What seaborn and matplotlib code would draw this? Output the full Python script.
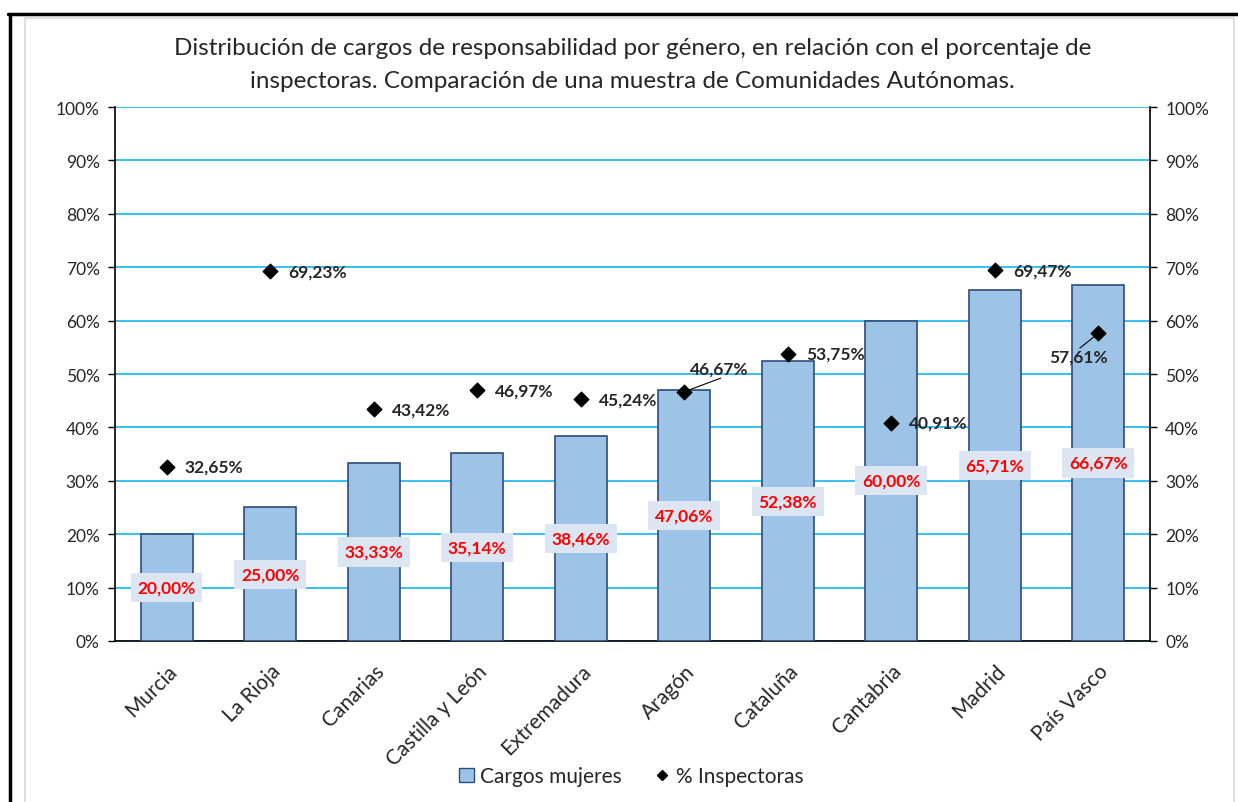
import pandas as pd
import matplotlib.pyplot as plt
import matplotlib.patches as mpatches
from matplotlib.lines import Line2D
import seaborn as sns

# data
comunidades = ["Murcia", "La Rioja", "Canarias", "Castilla y León", "Extremadura",
               "Aragón", "Cataluña", "Cantabria", "Madrid", "País Vasco"]
cargos_mujeres = [20.00, 25.00, 33.33, 35.14, 38.46, 47.06, 52.38, 60.00, 65.71, 66.67]
inspectoras = [32.65, 69.23, 43.42, 46.97, 45.24, 46.67, 53.75, 40.91, 69.47, 57.61]

df = pd.DataFrame({"Comunidad": comunidades,
                   "Cargos mujeres": cargos_mujeres,
                   "% Inspectoras": inspectoras})

def pct(v):
    return f"{v:.2f}%".replace(".", ",")

sns.set_theme(style="white")
plt.rcParams['font.family'] = ['Lato', 'DejaVu Sans']

fig = plt.figure(figsize=(12.38, 8.03), dpi=100)
ax = fig.add_axes([0.0929, 0.2005, 0.836, 0.665])

bar_face = "#9dc3e6"
bar_edge = "#2f4b7c"
sns.barplot(data=df, x="Comunidad", y="Cargos mujeres", color=bar_face,
            edgecolor=bar_edge, linewidth=1.2, width=0.5, saturation=1, ax=ax, zorder=3)
ax.scatter(range(len(comunidades)), df["% Inspectoras"], marker="D", s=55,
           color="black", zorder=5)

ax.set_ylim(0, 100)
ax.set_xlim(-0.5, len(comunidades) - 0.5)
ax.set_yticks(range(0, 101, 10))
ax.set_yticklabels([f"{t}%" for t in range(0, 101, 10)], fontsize=12.5)
ax.yaxis.grid(True, color="#00b0f0", linewidth=1.1, zorder=0)
ax.set_axisbelow(True)
ax.set_xlabel("")
ax.set_ylabel("")
ax.set_xticks(range(len(comunidades)))
ax.set_xticklabels(comunidades, rotation=45, ha="right", rotation_mode="anchor",
                   fontsize=15)
ax.tick_params(axis="x", length=0, pad=14)
ax.tick_params(axis="y", direction="out", length=5, width=1, color="black", pad=6)
for s in ["left", "right", "bottom"]:
    ax.spines[s].set_color("black")
    ax.spines[s].set_linewidth(1.2)
ax.spines["top"].set_visible(False)

ax2 = ax.twinx()
ax2.set_ylim(0, 100)
ax2.set_yticks(range(0, 101, 10))
ax2.set_yticklabels([f"{t}%" for t in range(0, 101, 10)], fontsize=12.5)
ax2.tick_params(axis="y", direction="out", length=5, width=1, color="black", pad=6)
for s in ax2.spines.values():
    s.set_visible(False)
ax2.grid(False)

# bar value labels (red on pale box, centred on bar)
for i, v in enumerate(cargos_mujeres):
    ax.text(i, v / 2, pct(v), ha="center", va="center", color="red",
            fontsize=12.5, fontweight="bold", zorder=6,
            bbox=dict(boxstyle="square,pad=0.38", fc="#dce6f2", ec="none"))

# diamond labels; two of them sit away from the marker with a leader line
leaders = {5: (4, 16.5, "left", (0.55, -0.05)), 9: (-14, -17, "center", (0.5, 1.0))}
for i, v in enumerate(inspectoras):
    if i in leaders:
        dx, dy, ha, rel = leaders[i]
        ax.annotate(pct(v), xy=(i, v), xytext=(dx, dy), textcoords="offset points",
                    ha=ha, va="center", fontsize=12.5, fontweight="bold", zorder=6,
                    arrowprops=dict(arrowstyle="-", color="black", lw=0.8,
                                    patchA=None, relpos=rel, shrinkA=1, shrinkB=3))
    else:
        ax.annotate(pct(v), xy=(i, v), xytext=(13, 0), textcoords="offset points",
                    ha="left", va="center", fontsize=12.5, fontweight="bold", zorder=6)

fig.text(0.511, 0.940, "Distribución de cargos de responsabilidad por género, en relación con el porcentaje de",
         ha="center", va="center", fontsize=17.5)
fig.text(0.511, 0.899, "inspectoras. Comparación de una muestra de Comunidades Autónomas.",
         ha="center", va="center", fontsize=17.5)

handles = [mpatches.Patch(facecolor=bar_face, edgecolor=bar_edge, label="Cargos mujeres"),
           Line2D([], [], marker="D", color="black", linestyle="none", markersize=5,
                  label="% Inspectoras")]
fig.legend(handles=handles, loc="center", bbox_to_anchor=(0.51, 0.032), ncol=2,
           frameon=False, fontsize=15, handlelength=0.7, handletextpad=0.3,
           columnspacing=1.6)

# outer frames: black top/left edge and light grey inner border
W, H = 1238, 803
fig.add_artist(Line2D([8 / W, 1], [1 - 15 / H, 1 - 15 / H], color="black", lw=2.5,
                      transform=fig.transFigure))
fig.add_artist(Line2D([9.5 / W, 9.5 / W], [0, 1 - 15 / H], color="black", lw=2.5,
                      transform=fig.transFigure))
fig.add_artist(mpatches.Rectangle((25 / W, -0.01), (1234 - 25) / W, 1 - 19 / H + 0.01,
                                  transform=fig.transFigure, fill=False,
                                  ec="#d9d9d9", lw=1.2))

fig.savefig("out.png", dpi=100)
